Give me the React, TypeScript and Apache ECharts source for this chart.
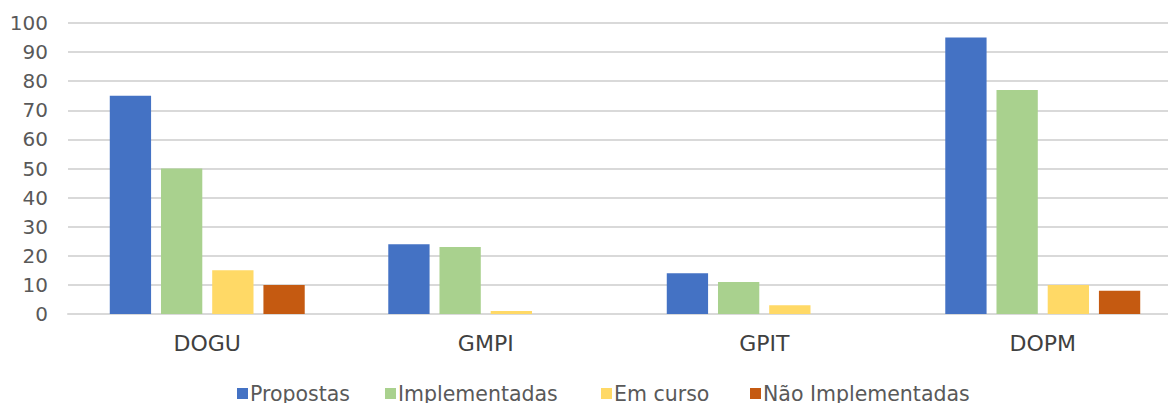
import React, { useEffect, useRef } from "react";
import * as echarts from "echarts";

const categories = ["DOGU", "GMPI", "GPIT", "DOPM"];
const seriesNames = ["Propostas", "Implementadas", "Em curso", "Não Implementadas"];
const propostas = [75, 24, 14, 95];
const implementadas = [50, 23, 11, 77];
const emCurso = [15, 1, 3, 10];
const naoImplementadas = [10, 0, 0, 8];
const colors = ["#4472C4", "#A9D18E", "#FFD966", "#C55A11"];
const legendLefts = [237, 385, 601, 750];

export default function App() {
  const ref = useRef<HTMLDivElement>(null);
  useEffect(() => {
    if (!ref.current) return;
    const chart = echarts.init(ref.current, null, { renderer: "svg" });
    const data = [propostas, implementadas, emCurso, naoImplementadas];
    chart.setOption({
      animation: false,
      textStyle: { fontFamily: "DejaVu Sans" },
      grid: { left: 68, top: 23, right: 0, height: 291 },
      legend: seriesNames.map((name, i) => ({
        data: [name],
        left: legendLefts[i],
        top: 383,
        padding: 0,
        itemWidth: 11,
        itemHeight: 11,
        itemGap: 0,
        icon: "rect",
        textStyle: { fontSize: 20.5, color: "#595959", fontFamily: "DejaVu Sans", padding: [0, 0, 0, -3] },
      })),
      xAxis: {
        type: "category",
        data: categories,
        axisLine: { show: true, lineStyle: { color: "#d9d9d9", width: 2 } },
        axisTick: { show: false },
        axisLabel: { fontSize: 22, color: "#404040", margin: 18, fontFamily: "DejaVu Sans" },
      },
      yAxis: {
        type: "value",
        min: 0,
        max: 100,
        interval: 10,
        axisLine: { show: false },
        axisTick: { show: false },
        splitLine: { lineStyle: { color: "#d9d9d9", width: 2 } },
        axisLabel: { fontSize: 20, color: "#595959", margin: 20, fontFamily: "DejaVu Sans" },
      },
      series: seriesNames.map((name, i) => ({
        name,
        type: "bar",
        data: data[i],
        barGap: "24%",
        barCategoryGap: "30%",
        itemStyle: { color: colors[i] },
      })),
    });
    return () => chart.dispose();
  }, []);
  return (
    <div style={{ width: 1168, height: 403, position: "absolute", left: 0, top: 0, overflow: "hidden" }}>
      <div ref={ref} style={{ width: 1182, height: 403 }} />
    </div>
  );
}
